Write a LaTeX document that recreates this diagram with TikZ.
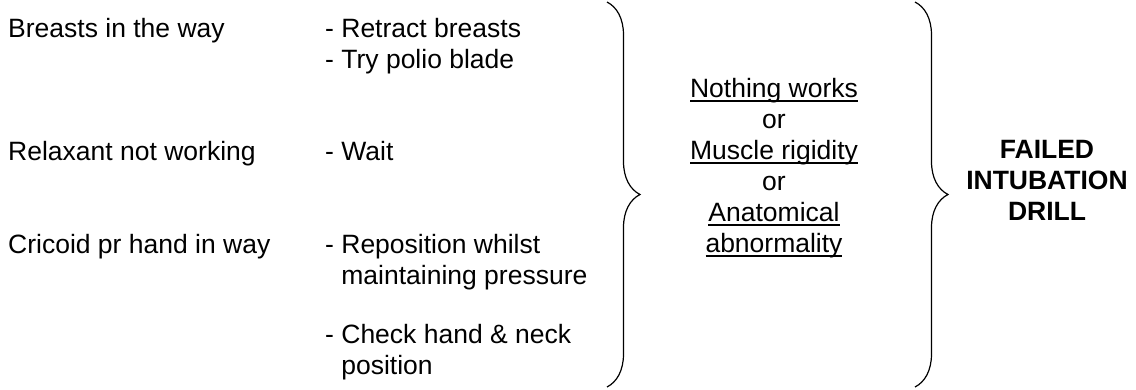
\documentclass[tikz,border=0pt]{standalone}
\usepackage{fontspec}
\setmainfont{Liberation Sans}
\usetikzlibrary{positioning, decorations.pathreplacing}

\newcommand{\ulin}[1]{\setbox0\hbox{#1}\rlap{\rule[-4.5pt]{\wd0}{1.5pt}}\box0}
\newcommand{\stacklines}[1]{\begin{tabular}[t]{@{}l@{}}#1\end{tabular}}

\begin{document}
\begin{tikzpicture}[
    x=1pt, y=-1pt,
    cause/.style={anchor=base west, inner sep=0pt, font=\fontsize{26.5}{31}\selectfont},
    action/.style={anchor=base west, inner sep=0pt, font=\fontsize{26.5}{31}\selectfont},
    reason/.style={align=center, inner sep=0pt, font=\fontsize{26.5}{31}\selectfont},
    result/.style={align=center, inner sep=0pt, font=\fontsize{26.5}{31}\selectfont\bfseries},
    bracket/.style={decorate, decoration={brace, amplitude=33pt}, line width=1.2pt}
]
\useasboundingbox (0,0) rectangle (1136,389);

% Problems
\node[cause] (breasts) at (8,37) {Breasts in the way};
\node[cause] (relax) at (8,160) {Relaxant not working};
\node[cause] (cricoid) at (8,253) {Cricoid pr hand in way};

% What to do
\node[action] (retract) at (325,37) {- Retract breasts};
\node[action] (polio) at (325,68) {- Try polio blade};
\node[action] (wait) at (325,160) {- Wait};
\node[action] (repos) at (325,253) {\stacklines{- Reposition whilst\\\phantom{- }maintaining pressure}};
\node[action] (check) at (325,343) {\stacklines{- Check hand \& neck\\\phantom{- }position}};

% Braces
\coordinate (b1top) at (607,2);
\coordinate (b1bot) at (607,387);
\draw[bracket] (b1top) -- (b1bot);

\coordinate (b2top) at (915,2);
\coordinate (b2bot) at (915,387);
\draw[bracket] (b2top) -- (b2bot);

% Reasons and outcome
\node[reason] (why) at (774,168) {\ulin{Nothing works}\\or\\\ulin{Muscle rigidity}\\or\\\ulin{Anatomical}\\\ulin{abnormality}};
\node[result] (drill) at (1047,180) {FAILED\\INTUBATION\\DRILL};

\end{tikzpicture}
\end{document}
